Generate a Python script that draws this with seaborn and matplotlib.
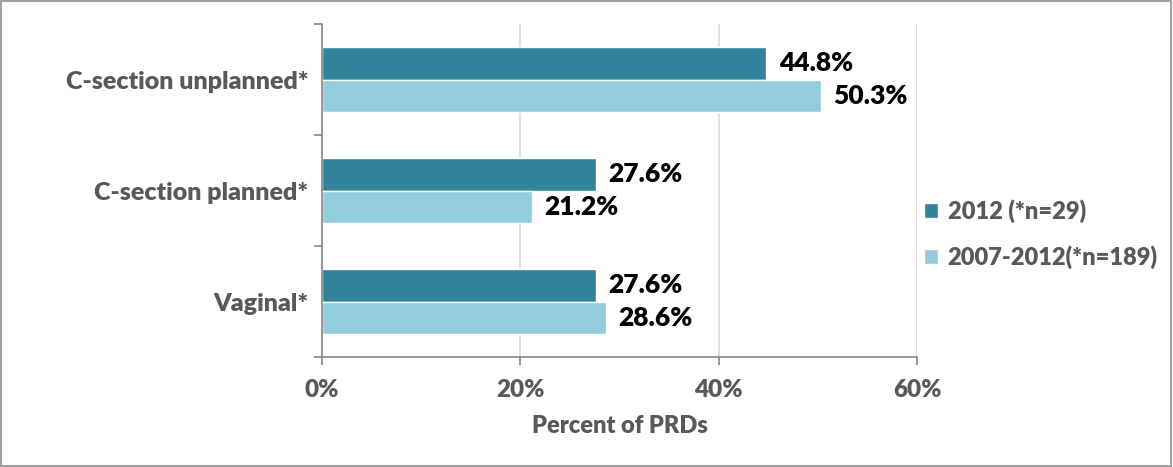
import pandas as pd
import seaborn as sns
import matplotlib.pyplot as plt
from matplotlib.patches import Rectangle

# Data
categories = ['C-section unplanned*', 'C-section planned*', 'Vaginal*']
series = ['2012 (*n=29)', '2007-2012(*n=189)']
pct_2012 = [44.8, 27.6, 27.6]
pct_2007_2012 = [50.3, 21.2, 28.6]
x_ticks = [0, 20, 40, 60]
x_tick_labels = ['0%', '20%', '40%', '60%']

df = pd.DataFrame({
    'category': categories * 2,
    'series': [series[0]] * 3 + [series[1]] * 3,
    'pct': pct_2012 + pct_2007_2012,
})

sns.set_theme(style='white')
plt.rcParams['font.family'] = ['Lato', 'DejaVu Sans']
plt.rcParams['font.weight'] = 'bold'

gray_text = '#595959'
colors = ['#31849B', '#93CDDD']

fig = plt.figure(figsize=(11.73, 4.67), dpi=100)
ax = fig.add_axes([0.2745, 0.2355, 0.5073, 0.7131])

sns.barplot(data=df, x='pct', y='category', hue='series', order=categories,
            hue_order=series, palette=colors, width=0.58, saturation=1,
            ax=ax, orient='h')

for cont in ax.containers:
    ax.bar_label(cont, fmt='%.1f%%', padding=9, fontsize=19, fontweight='heavy', color='black')

ax.set_xlim(0, 60)
ax.set_ylim(2.5, -0.5)
ax.set_xticks(x_ticks)
ax.set_xticklabels(x_tick_labels, fontsize=17.5, fontweight='heavy', color=gray_text)
ax.set_yticks(range(len(categories)))
ax.set_yticklabels(categories, fontsize=18, fontweight='heavy', color=gray_text)
ax.tick_params(axis='y', which='major', length=0, pad=10)
ax.set_yticks([-0.5, 0.5, 1.5, 2.5], minor=True)
ax.tick_params(axis='y', which='minor', length=6, color='#868686', width=1.2, direction='out', left=True)
ax.tick_params(axis='x', length=6, color='#868686', width=1.2, direction='out', bottom=True, pad=10)

ax.xaxis.grid(True, color='#D9D9D9', linewidth=1.2)
ax.set_axisbelow(True)
for s in ['top', 'right']:
    ax.spines[s].set_visible(False)
for s in ['left', 'bottom']:
    ax.spines[s].set_color('#868686')
    ax.spines[s].set_linewidth(1.2)

ax.set_ylabel('')
ax.set_xlabel('Percent of PRDs', fontsize=17, fontweight='heavy', color=gray_text, labelpad=10)

leg = ax.legend(loc='center left', bbox_to_anchor=(1.0, 0.37), frameon=False,
                borderaxespad=0.0, borderpad=0.3,
                fontsize=17, handlelength=0.6, handleheight=0.6, handletextpad=0.4,
                labelspacing=0.95)
for t in leg.get_texts():
    t.set_color(gray_text)
    t.set_fontweight('heavy')

fig.patches.append(Rectangle((0.001, 0.002), 0.997, 0.995, transform=fig.transFigure,
                             fill=False, edgecolor='#A0A0A0', linewidth=1.5))

fig.savefig('out.png', dpi=100)
